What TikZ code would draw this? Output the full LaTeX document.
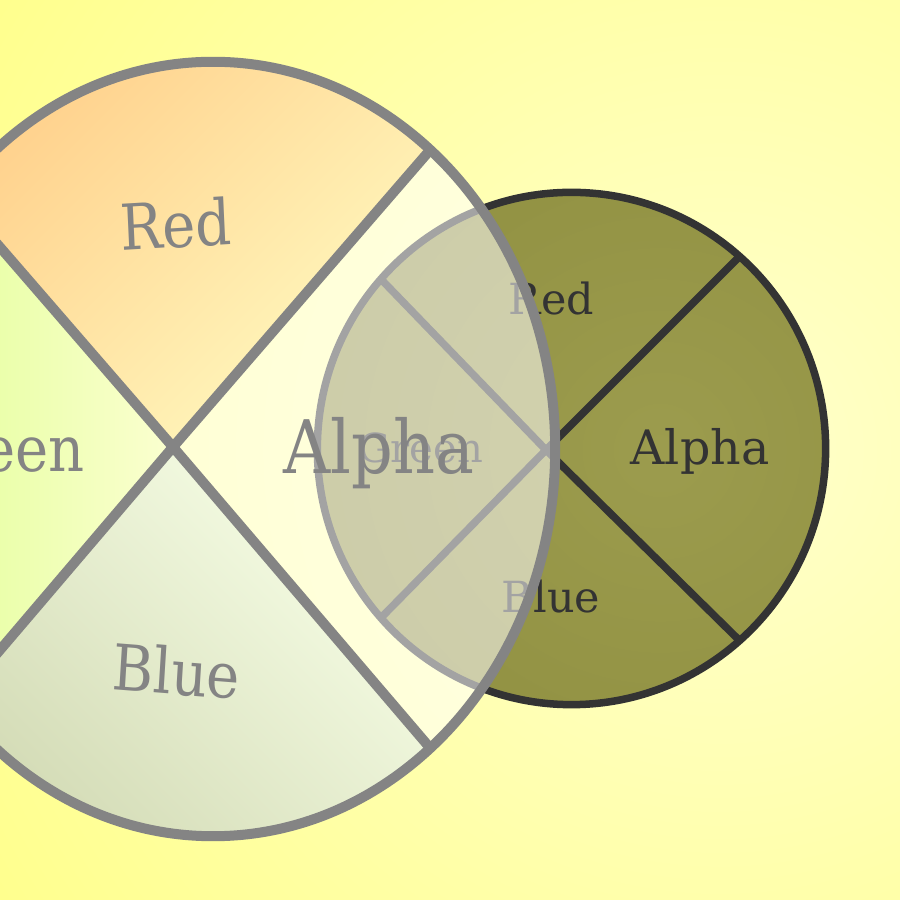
\documentclass[tikz,border=0pt]{standalone}
\usepackage{fontspec}
\setmainfont{DejaVu Serif}

\definecolor{bgin}{HTML}{FFFFCC}
\definecolor{bgout}{HTML}{FFFF5E}
\definecolor{olivein}{HTML}{9C9C4E}
\definecolor{oliveout}{HTML}{8A8A3A}
\definecolor{smalledge}{HTML}{333333}
\definecolor{bigedge}{HTML}{848484}
\definecolor{bigtext}{HTML}{848484}
\definecolor{redA}{HTML}{FFCF8A}
\definecolor{redB}{HTML}{FFFAC0}
\definecolor{greenA}{HTML}{DCFF8A}
\definecolor{greenB}{HTML}{FBFFD0}
\definecolor{blueA}{HTML}{D2DAB4}
\definecolor{blueB}{HTML}{F8FFE8}

\tikzset{
  bigline/.style={draw=bigedge, line width=0.1cm, line join=round},
  smallline/.style={draw=smalledge, line width=0.075cm},
  biglabel/.style={text=bigtext, inner sep=0pt, xscale=0.884,
    font=\fontsize{18}{20}\selectfont},
  smalllabel/.style={text=smalledge, inner sep=0pt,
    font=\fontsize{12.2}{14}\selectfont},
  bigarc/.style={x radius=3.42cm, y radius=3.87cm},
}

\begin{document}
\begin{tikzpicture}[x=0.01cm, y=0.01cm]
  \useasboundingbox (0,0) rectangle (900,900);
  \clip (0,0) rectangle (900,900);

  % background
  \shade[inner color=bgin, outer color=bgout] (720,450) circle[radius=15cm];

  % small pie
  \coordinate (s0) at (571.5,451.5);
  \coordinate (c2) at (546,450);
  \coordinate (sur) at (739.5,643.5);
  \coordinate (sul) at (381,620.8);
  \coordinate (sll) at (381,282.2);
  \coordinate (slr) at (739.5,259.5);
  \begin{scope}
    \clip (s0) ellipse[x radius=2.54cm, y radius=2.56cm];
    \shade[inner color=olivein, outer color=oliveout] (660,450) circle[radius=5.6cm];
  \end{scope}
  \draw[smallline] (s0) ellipse[x radius=2.54cm, y radius=2.56cm];
  \foreach \p in {sur,sul,sll,slr}
    \draw[smallline] (c2) -- (\p);
  \node[smalllabel, anchor=base] (redSmall) at (551.5,585) {Red};
  \node[smalllabel, anchor=base, font=\fontsize{13.5}{15}\selectfont] (alphaSmall) at (700,435) {Alpha};
  \node[smalllabel, anchor=base] (blueSmall) at (551,287) {Blue};
  \node[smalllabel, anchor=base, font=\fontsize{11.4}{13}\selectfont] (greenSmall) at (421,437) {Green};

  % big pie
  \coordinate (c1) at (173,453);
  \coordinate (bur) at (430.1,750);
  \coordinate (bul) at (-45.1,704.9);
  \coordinate (bll) at (-45.1,197.1);
  \coordinate (blr) at (430.1,152);
  \shade[top color=redA, bottom color=redB, shading angle=45]
    (c1) -- (bur) arc[start angle=50.6, end angle=139, bigarc] -- cycle;
  \shade[top color=greenA, bottom color=greenB, shading angle=90]
    (c1) -- (bul) arc[start angle=139, end angle=221, bigarc] -- cycle;
  \shade[top color=blueA, bottom color=blueB, shading angle=135]
    (c1) -- (bll) arc[start angle=221, end angle=309.4, bigarc] -- cycle;
  \fill[white, fill opacity=0.55]
    (c1) -- (blr) arc[start angle=-50.6, end angle=50.6, bigarc] -- cycle;
  \draw[bigline] (213,451) ellipse[bigarc];
  \foreach \p in {bur,bul,bll,blr}
    \draw[bigline] (c1) -- (\p);

  \node[biglabel, rotate=3] (redBig) at (176,676) {Red};
  \node[biglabel, anchor=base] (greenBig) at (-2,428) {Green};
  \node[biglabel, anchor=base, font=\fontsize{21}{24}\selectfont] (alphaBig) at (379,426) {Alpha};
  \node[biglabel, rotate=-4] (blueBig) at (176.5,229) {Blue};
\end{tikzpicture}
\end{document}
